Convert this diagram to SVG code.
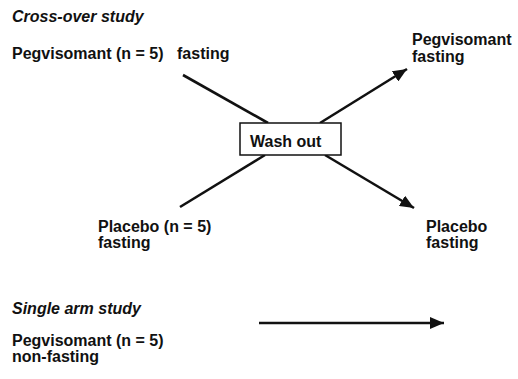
<svg xmlns="http://www.w3.org/2000/svg" width="518" height="379" viewBox="0 0 518 379">
<defs>
<style>
text{font-family:"Liberation Sans",Arial,sans-serif;font-size:16px;font-weight:bold;fill:#111}
.h{font-style:italic}
.ln{stroke:#111;stroke-width:2.6;fill:none}
</style>
<marker id="ah" markerUnits="userSpaceOnUse" markerWidth="16" markerHeight="12" refX="14" refY="6" orient="auto">
<path d="M0,0 L14,6 L0,12 Z" fill="#111"/>
</marker>
</defs>
<rect width="518" height="379" fill="#fff"/>
<text class="h" x="12" y="22">Cross-over study</text>
<text class="h" x="12" y="314">Single arm study</text>
<g id="connectors">
<line class="ln" x1="183" y1="75" x2="268" y2="123"/>
<line class="ln" x1="320" y1="123" x2="407" y2="69" marker-end="url(#ah)"/>
<line class="ln" x1="180" y1="207" x2="265" y2="155"/>
<line class="ln" x1="325" y1="155" x2="414" y2="208" marker-end="url(#ah)"/>
<line class="ln" x1="259" y1="323" x2="444" y2="323" marker-end="url(#ah)"/>
</g>
<g id="peg-fasting-start"><text x="12" y="59">Pegvisomant (n = 5)</text><text x="177" y="59">fasting</text></g>
<g id="washout"><rect x="240" y="123" width="101" height="32" fill="#fff" stroke="#111" stroke-width="1.5"/><text x="250" y="147">Wash out</text></g>
<g id="placebo-start"><text x="98" y="232">Placebo (n = 5)</text><text x="98" y="248">fasting</text></g>
<g id="peg-fasting-end"><text x="412" y="45">Pegvisomant</text><text x="412" y="62">fasting</text></g>
<g id="placebo-end"><text x="426" y="232">Placebo</text><text x="426" y="248">fasting</text></g>
<g id="peg-nonfasting"><text x="12" y="346">Pegvisomant (n = 5)</text><text x="12" y="362">non-fasting</text></g>
</svg>
